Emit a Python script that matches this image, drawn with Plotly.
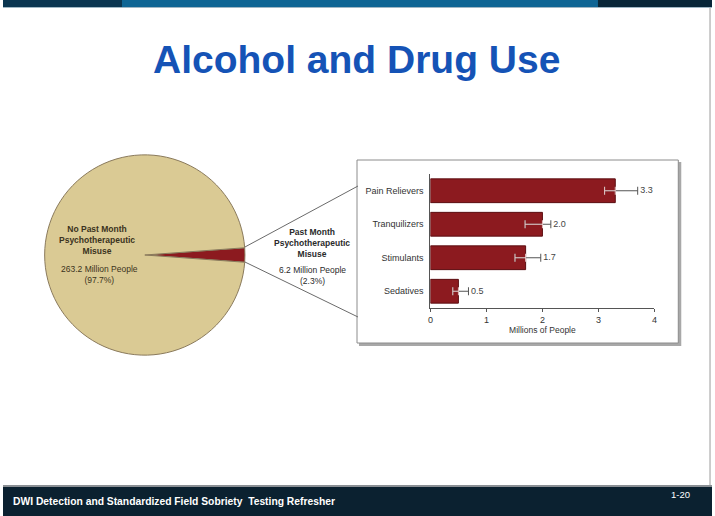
import plotly.graph_objects as go

W, H = 715, 516

# ---- data ----
pie_labels = ["Past Month Psychotherapeutic Misuse", "No Past Month Psychotherapeutic Misuse"]
pie_values = [6.2, 263.2]
pie_pct = [2.3, 97.7]

drug_cats = ["Pain Relievers", "Tranquilizers", "Stimulants", "Sedatives"]
drug_vals = [3.3, 2.0, 1.7, 0.5]
err_lower = [0.19, 0.31, 0.19, 0.10]
err_upper = [0.40, 0.15, 0.27, 0.18]
drug_text = ["3.3", "2.0", "1.7", "0.5"]
x_ticks = [0, 1, 2, 3, 4]


def px(x):
    return x / W


def py(y):
    return 1 - y / H


RED = "#8C1A1F"
BEIGE = "#DACA94"

fig = go.Figure()

fig.add_trace(go.Pie(
    labels=pie_labels, values=pie_values, sort=False, direction="clockwise",
    rotation=90 - pie_pct[0] * 3.6 / 2,
    marker=dict(colors=[RED, BEIGE], line=dict(color="#8a7a5c", width=1)),
    textinfo="none", hoverinfo="skip", showlegend=False,
    domain=dict(x=[px(42), px(244)], y=[py(356), py(154)]),
))

fig.add_trace(go.Bar(
    x=drug_vals, y=drug_cats, orientation="h",
    marker=dict(color=RED, line=dict(color="#5c0e12", width=1)),
    width=0.71, hoverinfo="skip", xaxis="x", yaxis="y",
))

# full error bar (gray)
fig.add_trace(go.Scatter(
    x=drug_vals, y=drug_cats, mode="markers",
    marker=dict(size=1, color="rgba(0,0,0,0)"),
    error_x=dict(type="data", symmetric=False, array=err_upper, arrayminus=err_lower,
                 color="#555555", thickness=1, width=4),
    hoverinfo="skip", xaxis="x", yaxis="y",
))
# portion inside bar (light)
fig.add_trace(go.Scatter(
    x=drug_vals, y=drug_cats, mode="markers",
    marker=dict(size=1, color="rgba(0,0,0,0)"),
    error_x=dict(type="data", symmetric=False, array=[0] * 4, arrayminus=err_lower,
                 color="#EBC9C9", thickness=1, width=4),
    hoverinfo="skip", xaxis="x", yaxis="y",
))
# value labels
fig.add_trace(go.Scatter(
    x=[v + u for v, u in zip(drug_vals, err_upper)], y=drug_cats, mode="text",
    text=[" " + t for t in drug_text], textposition="middle right",
    textfont=dict(family="Liberation Sans, Arial", size=9, color="#444444"),
    cliponaxis=False, hoverinfo="skip", xaxis="x", yaxis="y",
))

shapes = [
    # top bar
    dict(type="rect", xref="paper", yref="paper", x0=0, x1=1, y0=py(7), y1=1,
         fillcolor="#0E6594", line_width=0, layer="below"),
    dict(type="rect", xref="paper", yref="paper", x0=0, x1=px(120), y0=py(7), y1=1,
         fillcolor="#0A3550", line_width=0, layer="below"),
    dict(type="rect", xref="paper", yref="paper", x0=px(600), x1=1, y0=py(7), y1=1,
         fillcolor="#082638", line_width=0, layer="below"),
    dict(type="rect", xref="paper", yref="paper", x0=0, x1=1, y0=py(8), y1=py(7),
         fillcolor="#9fb7c4", line_width=0, layer="below"),
    # right edge line
    dict(type="line", xref="paper", yref="paper", x0=px(713), x1=px(713), y0=py(486), y1=py(8),
         line=dict(color="#9a9a9a", width=1), layer="below"),
    # footer
    dict(type="rect", xref="paper", yref="paper", x0=0, x1=1, y0=0, y1=py(486),
         fillcolor="#0B2130", line_width=0, layer="below"),
    dict(type="rect", xref="paper", yref="paper", x0=0, x1=1, y0=py(487), y1=py(485),
         fillcolor="#8a8f94", line_width=0, layer="below"),
    # bar box shadow + box
    dict(type="rect", xref="paper", yref="paper", x0=px(359), x1=px(684), y0=py(346), y1=py(162),
         fillcolor="#a8a8a8", line_width=0, layer="below"),
    dict(type="rect", xref="paper", yref="paper", x0=px(357), x1=px(681), y0=py(343), y1=py(160),
         fillcolor="white", line=dict(color="#8c8c8c", width=1), layer="below"),
    # connector lines
    dict(type="line", xref="paper", yref="paper", x0=px(244), y0=py(247), x1=px(358), y1=py(186),
         line=dict(color="#6a6a6a", width=1)),
    dict(type="line", xref="paper", yref="paper", x0=px(244), y0=py(262), x1=px(358), y1=py(317),
         line=dict(color="#6a6a6a", width=1)),
]

FONT = "Liberation Sans, Arial"
SMALL = "Liberation Sans, Arial"
ann = [
    dict(text="<b>Alcohol and Drug Use</b>", x=px(356), y=py(60), xref="paper", yref="paper",
         showarrow=False, xanchor="center", yanchor="middle",
         font=dict(family=FONT, size=39, color="#1553B6")),
    dict(text="<b>No Past Month<br>Psychotherapeutic<br>Misuse</b>", x=px(95), y=py(240),
         xref="paper", yref="paper", showarrow=False, xanchor="center", yanchor="middle",
         font=dict(family=SMALL, size=8.5, color="#3a3320")),
    dict(text=f"{pie_values[1]:.1f} Million People<br>({pie_pct[1]:.1f}%)", x=px(97), y=py(274),
         xref="paper", yref="paper", showarrow=False, xanchor="center", yanchor="middle",
         font=dict(family=SMALL, size=8.5, color="#3a3320")),
    dict(text="<b>Past Month<br>Psychotherapeutic<br>Misuse</b>", x=px(312), y=py(243),
         xref="paper", yref="paper", showarrow=False, xanchor="center", yanchor="middle",
         font=dict(family=SMALL, size=8.5, color="#2a2a2a")),
    dict(text=f"{pie_values[0]:.1f} Million People<br>({pie_pct[0]:.1f}%)", x=px(312), y=py(275),
         xref="paper", yref="paper", showarrow=False, xanchor="center", yanchor="middle",
         font=dict(family=SMALL, size=8.5, color="#2a2a2a")),
    dict(text="<b>DWI Detection and Standardized Field Sobriety  Testing Refresher</b>",
         x=px(8), y=py(501), xref="paper", yref="paper", showarrow=False,
         xanchor="left", yanchor="middle",
         font=dict(family=SMALL, size=10.3, color="white")),
    dict(text="1-20", x=px(683), y=py(494), xref="paper", yref="paper", showarrow=False,
         xanchor="center", yanchor="middle",
         font=dict(family=SMALL, size=9.5, color="white")),
]

fig.update_layout(
    width=W, height=H, margin=dict(l=0, r=0, t=0, b=0),
    paper_bgcolor="white", plot_bgcolor="rgba(0,0,0,0)",
    showlegend=False, shapes=shapes, annotations=ann,
    xaxis=dict(domain=[px(431), px(657)], range=[0, 4], tickvals=x_ticks,
               showline=True, linecolor="#555555", linewidth=1, ticks="outside",
               ticklen=3, tickcolor="#555555", showgrid=False, zeroline=False,
               tickfont=dict(family=FONT, size=9, color="#333333"),
               title=dict(text="Millions of People", standoff=3,
                          font=dict(family=SMALL, size=8.5, color="#333333")),
               fixedrange=True, anchor="y"),
    yaxis=dict(domain=[py(308), py(174)], categoryorder="array", categoryarray=drug_cats,
               autorange="reversed", showline=True, linecolor="#555555", linewidth=1,
               ticks="", showgrid=False, zeroline=False,
               tickfont=dict(family=SMALL, size=9, color="#333333"),
               ticklabelstandoff=4, fixedrange=True, anchor="x"),
    bargap=0.29,
)

fig.write_html("out.html", config={"displayModeBar": False},
               post_script="document.body.style.margin='0';document.body.style.overflow='hidden';")
